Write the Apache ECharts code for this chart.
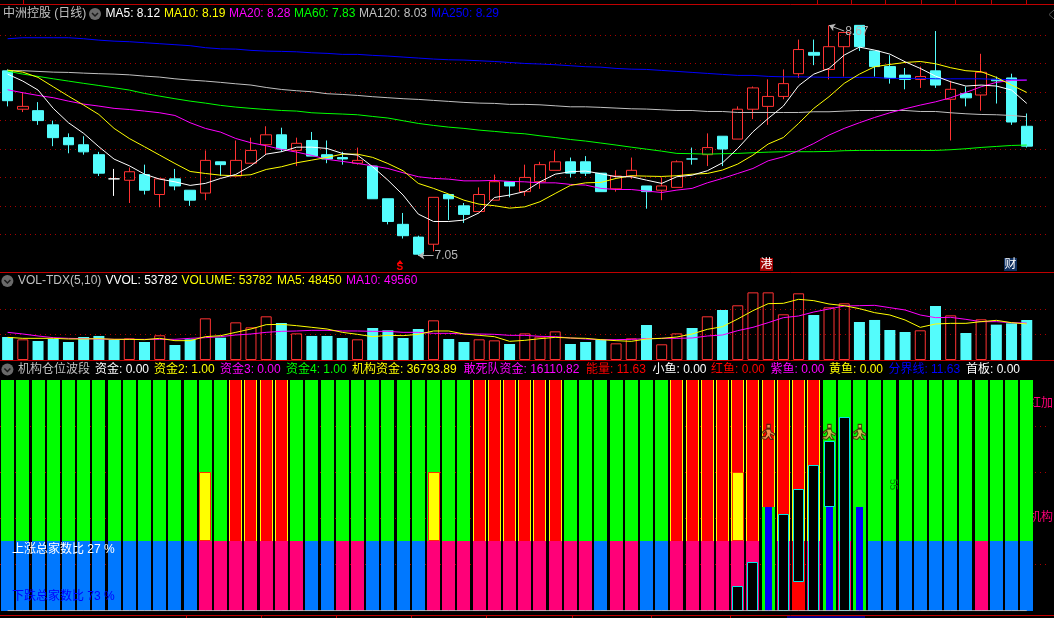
<!DOCTYPE html>
<html><head><meta charset="utf-8">
<style>html,body{margin:0;padding:0;background:#000}#c{width:1054px;height:618px}</style>
<script src="https://cdn.jsdelivr.net/npm/echarts@6/dist/echarts.min.js"></script>
</head><body><div id="c"></div>
<script>
const categories = Array.from({length:69},(_,i)=>'D'+(i+1));

// [open, close, low, high]
const candles = [
[8.35,8.14,8.10,8.36],[8.08,8.10,8.06,8.20],[8.07,8.00,7.97,8.13],[7.97,7.88,7.82,8.00],[7.88,7.83,7.77,7.91],
[7.83,7.78,7.76,7.89],[7.76,7.63,7.61,7.78],[7.59,7.59,7.47,7.66],[7.58,7.64,7.42,7.67],[7.62,7.51,7.48,7.69],
[7.48,7.59,7.39,7.59],[7.59,7.54,7.51,7.66],[7.51,7.44,7.40,7.51],[7.49,7.72,7.44,7.79],[7.71,7.69,7.61,7.71],
[7.61,7.72,7.61,7.86],[7.70,7.79,7.70,7.88],[7.83,7.90,7.76,7.96],[7.90,7.80,7.78,7.95],[7.79,7.84,7.68,7.88],
[7.86,7.75,7.75,7.92],[7.76,7.73,7.70,7.86],[7.74,7.73,7.69,7.78],[7.70,7.72,7.69,7.81],[7.68,7.45,7.45,7.68],
[7.45,7.29,7.27,7.45],[7.27,7.19,7.17,7.35],[7.18,7.06,7.05,7.19],[7.13,7.46,7.08,7.46],[7.48,7.45,7.30,7.48],
[7.40,7.34,7.28,7.42],[7.36,7.48,7.36,7.53],[7.44,7.57,7.44,7.62],[7.57,7.54,7.46,7.57],[7.50,7.60,7.47,7.69],
[7.57,7.69,7.52,7.71],[7.65,7.71,7.65,7.79],[7.71,7.63,7.60,7.74],[7.71,7.63,7.61,7.75],[7.63,7.50,7.50,7.63],
[7.52,7.61,7.50,7.65],[7.61,7.65,7.59,7.74],[7.54,7.50,7.38,7.54],[7.51,7.54,7.44,7.60],[7.53,7.71,7.53,7.72],
[7.73,7.73,7.69,7.81],[7.76,7.81,7.68,7.91],[7.89,7.80,7.68,7.89],[7.87,8.08,7.87,8.10],[8.08,8.23,8.01,8.24],
[8.10,8.17,7.97,8.29],[8.17,8.26,8.15,8.36],[8.33,8.50,8.30,8.57],[8.48,8.46,8.39,8.57],[8.36,8.52,8.29,8.67],
[8.52,8.62,8.31,8.62],[8.67,8.52,8.49,8.67],[8.49,8.38,8.31,8.49],[8.38,8.30,8.26,8.46],[8.32,8.29,8.22,8.37],
[8.29,8.31,8.23,8.38],[8.35,8.25,8.23,8.63],[8.15,8.22,7.86,8.28],[8.19,8.16,8.10,8.24],[8.18,8.34,8.07,8.47],
[8.29,8.28,8.12,8.31],[8.30,7.99,7.97,8.33],[7.96,7.82,7.81,8.05]];

const ma5 = [8.327,8.278,8.215,8.086,7.985,7.910,7.816,7.729,7.682,7.623,7.588,7.569,7.544,7.558,7.593,7.621,7.682,7.764,7.781,7.813,7.813,7.804,7.769,
7.757,7.675,7.581,7.476,7.342,7.290,7.290,7.300,7.351,7.459,7.476,7.501,7.569,7.623,7.640,7.645,7.626,7.605,7.605,7.581,7.558,7.605,7.616,
7.647,7.703,7.804,7.921,8.015,8.102,8.245,8.327,8.367,8.461,8.517,8.496,8.468,8.414,8.367,8.313,8.273,8.243,8.250,8.243,8.215,8.121];
const ma10 = [8.355,8.341,8.304,8.238,8.172,8.109,8.043,7.945,7.874,7.816,7.757,7.698,7.642,7.628,7.616,7.612,7.619,7.656,7.675,7.703,7.722,7.741,7.764,
7.764,7.741,7.698,7.647,7.558,7.523,7.483,7.440,7.412,7.401,7.384,7.393,7.429,7.487,7.544,7.562,7.565,7.593,7.612,7.609,7.607,7.612,7.623,
7.628,7.652,7.694,7.757,7.835,7.881,7.980,8.086,8.168,8.262,8.327,8.379,8.395,8.409,8.416,8.400,8.372,8.351,8.344,8.304,8.250,8.198];
const ma20 = [8.217,8.196,8.177,8.161,8.137,8.116,8.102,8.086,8.078,8.067,8.055,8.036,7.985,7.945,7.919,7.874,7.844,7.823,7.797,7.778,7.755,7.727,7.713,
7.698,7.682,7.663,7.633,7.605,7.593,7.588,7.576,7.576,7.579,7.572,7.569,7.562,7.562,7.551,7.546,7.523,7.515,7.515,7.504,7.494,7.511,7.523,
7.562,7.593,7.628,7.663,7.717,7.745,7.788,7.839,7.898,7.945,7.985,8.022,8.055,8.083,8.109,8.132,8.161,8.198,8.238,8.269,8.283,8.285];
const ma60 = [8.348,8.327,8.311,8.294,8.278,8.262,8.247,8.231,8.215,8.191,8.172,8.154,8.137,8.123,8.107,8.095,8.086,8.078,8.071,8.067,8.055,8.050,8.046,
8.041,8.029,8.018,7.999,7.980,7.966,7.954,7.945,7.933,7.924,7.914,7.907,7.893,7.881,7.867,7.856,7.842,7.828,7.813,7.799,7.785,7.769,7.767,
7.764,7.767,7.769,7.774,7.778,7.781,7.781,7.781,7.783,7.788,7.790,7.790,7.790,7.790,7.790,7.790,7.795,7.802,7.811,7.818,7.825,7.828];
const ma120 = [8.351,8.351,8.346,8.341,8.339,8.334,8.330,8.327,8.322,8.313,8.306,8.294,8.285,8.278,8.269,8.259,8.250,8.233,8.219,8.210,8.203,8.189,8.184,
8.177,8.168,8.161,8.154,8.149,8.142,8.135,8.128,8.123,8.121,8.114,8.114,8.111,8.104,8.097,8.097,8.093,8.088,8.083,8.081,8.076,8.071,8.071,
8.064,8.064,8.057,8.057,8.057,8.057,8.057,8.062,8.062,8.067,8.071,8.071,8.071,8.071,8.064,8.064,8.055,8.048,8.043,8.041,8.036,8.027];
const ma250 = [8.576,8.583,8.583,8.583,8.583,8.576,8.566,8.559,8.555,8.548,8.541,8.534,8.527,8.513,8.505,8.503,8.494,8.489,8.487,8.484,8.477,8.473,8.466,
8.466,8.459,8.454,8.447,8.440,8.433,8.428,8.426,8.421,8.416,8.409,8.402,8.398,8.393,8.386,8.379,8.376,8.367,8.362,8.360,8.353,8.346,8.339,
8.332,8.325,8.318,8.318,8.311,8.308,8.308,8.306,8.304,8.304,8.304,8.304,8.297,8.297,8.297,8.294,8.294,8.294,8.294,8.290,8.287,8.285];

const volume = [30900,27800,25500,28200,24200,30900,32300,26900,29100,24200,33200,20200,27800,56000,30000,50600,43900,58700,49700,35800,32300,32300,29600,27800,
43000,39900,29600,41700,53300,28200,24200,27800,26400,21500,35800,31400,38500,21500,24200,27300,22400,29100,47000,21100,35800,43000,58700,67200,
73500,90900,90900,61400,89600,60500,70800,76200,51100,53800,40300,37600,39900,72600,60000,36300,54700,47500,49300,53782];
const volMa5 = [30464,29120,29120,29120,28224,28224,28672,27776,27776,27328,29120,25984,25984,31360,32704,37184,41664,47488,47936,46144,43904,41664,37184,34496,
31360,33152,32704,34496,38976,38976,34944,33152,31360,25088,26432,28672,30464,29568,29120,27328,25984,25088,28224,29120,30912,34944,41216,44800,
55104,66304,75712,76160,81536,79744,75264,73024,68992,63616,60480,53760,43904,48384,49280,49280,51520,53312,50176,48450];
const volMa10 = [37184,34944,32256,30016,29120,28672,28224,27776,27776,27776,27776,27776,29120,30016,31360,33600,34944,37184,38528,38976,39872,39872,38976,38976,
38528,38528,37184,37184,35840,35840,34944,34944,34496,33152,33152,31808,31360,29568,28224,27328,27328,27776,28672,29120,29120,29568,32256,33600,
39424,43904,50176,56896,59136,64512,68544,72576,73024,73472,70336,67200,60480,56896,57344,54656,51520,51520,50176,49560];

// third panel: state of each session
const upperRed = [0,0,0,0,0,0,0,0,0,0,0,0,0,0,0,1,1,1,1,0,0,0,0,0,0,0,0,0,0,0,0,1,1,1,1,1,1,0,0,0,0,0,0,0,1,1,1,1,1,1,1,1,1,1,0,0,0,0,0,0,0,0,0,0,0,0,0,0];
const lowerKind = ['B','B','B','B','B','B','B','B','B','B','B','B','B','P','P','P','P','P','P','P','B','B','P','P','B','B','B','B','P','P','P','P','P','P','P','P','P','P','P','B','P','P','B','B','P','P','P','P','P','P','-','P','R','P','-','P','-','B','B','B','B','B','B','B','P','B','B','B'];
const upperLine = 100, splitLevel = 30;
const yellowSessions = [13,28,48];
const yellowTop = [60,60,60];
const blueSessions = [50,54,56];
const blueTop = [45,45,45];
const blackSessions = [48,49,51,52,53,54,55];
const blackBottom = [0,0,0,12.4,0,45,0];
const blackTop = [10.7,21.1,41.8,52.6,63,73.4,83.8];
const runnerSessions = [50,54,56];
const runnerLevel = [77.5,77.5,77.5];
const baseline = new Array(68).fill(0);

const priceTitle = '中洲控股 (日线)';
const row1Texts = ['MA5: 8.12','MA10: 8.19','MA20: 8.28','MA60: 7.83','MA120: 8.03','MA250: 8.29'];
const row2Texts = ['VOL-TDX(5,10)','VVOL: 53782','VOLUME: 53782','MA5: 48450','MA10: 49560'];
const row3Texts = ['机构仓位波段','资金: 0.00','资金2: 1.00','资金3: 0.00','资金4: 1.00','机构资金: 36793.89','敢死队资金: 16110.82','能量: 11.63','小鱼: 0.00','红鱼: 0.00','紫鱼: 0.00','黄鱼: 0.00','分界线: 11.63','首板: 0.00'];

const C = {white:'#ffffff',yellow:'#ffff00',mag:'#ff00ff',green:'#00ff00',gray:'#c0c0c0',blue:'#0000ff',red:'#ff0000',cy:'#54fcfc',cr:'#ff3232',
  bar:'#0078ff',pink:'#ff0078',dot:'#a80000',line:'#c00000'};
const FONT = '12px "Liberation Sans","Noto Sans CJK SC",sans-serif';
const row1X=[105.5,164,229,294,359,431], row1C=[C.white,C.yellow,C.mag,C.green,C.gray,C.blue];
const row2X=[18,105.5,181.5,277,346], row2C=[C.gray,C.white,C.yellow,C.yellow,C.mag];
const row3X=[18,95,154,220,286,352,463.5,586,652.5,711,770.5,829,888.4,966];
const row3C=[C.gray,C.white,C.yellow,C.mag,C.green,C.yellow,C.mag,C.red,C.white,C.red,C.mag,C.yellow,C.blue,C.white];

const chart = echarts.init(document.getElementById('c'),null,{renderer:'canvas'});
const band = 15.23, gridLeft = -1.3, gridW = band*69;
function xAx(i){return {type:'category',gridIndex:i,data:categories,show:false,boundaryGap:true};}
function yAx(i,min,max,interval){return {type:'value',gridIndex:i,min,max,interval,scale:false,
  axisLine:{show:false},axisTick:{show:false},axisLabel:{show:false},
  splitLine:{show:true,showMinLine:false,showMaxLine:false,lineStyle:{color:C.dot,type:[1,4],width:1}}};}
function maLine(name,data,color){return {name,type:'line',data,xAxisIndex:0,yAxisIndex:0,symbol:'none',showSymbol:false,smooth:false,
  lineStyle:{color,width:1},z:5,silent:true};}
function volLine(name,data,color){return {name,type:'line',data,xAxisIndex:1,yAxisIndex:1,symbol:'none',showSymbol:false,
  lineStyle:{color,width:1},z:5,silent:true};}
function layer(rows,fill,w,stroke,z){return {type:'custom',xAxisIndex:2,yAxisIndex:2,data:rows,z,silent:true,clip:false,
  encode:{x:0,y:[1,2]},
  renderItem(p,api){
    const t=api.coord([api.value(0),api.value(2)]), b=api.coord([api.value(0),api.value(1)]);
    const x=Math.round(t[0]-w/2), y=Math.round(t[1]);
    return {type:'rect',shape:{x:stroke?x+.5:x,y:stroke?y+.5:y,width:stroke?w-1:w,height:Math.round(b[1])-y-(stroke?1:0)},
      style:{fill,stroke:stroke||null,lineWidth:stroke?1:0}};
  }};}
const rowsWhere=(pred,from,to)=>{const r=[];for(let i=0;i<68;i++)if(pred(i))r.push([i,from,to]);return r;};

const series = [
 {type:'candlestick',xAxisIndex:0,yAxisIndex:0,barWidth:11,z:3,silent:true,
  data:candles.map((d,i)=> i===7?{value:d,itemStyle:{borderColor:'#fff',borderColor0:'#fff',borderColorDoji:'#fff',color:'#fff',color0:'#fff'}}:d),
  itemStyle:{color:'transparent',color0:C.cy,borderColor:C.cr,borderColor0:C.cy,borderColorDoji:C.cy,borderWidth:1},
  markLine:{silent:true,animation:false,symbol:['arrow','none'],symbolSize:6,precision:2,
    lineStyle:{color:'#b8b8b8',width:1,type:'solid'},
    label:{show:true,position:'end',color:'#b8b8b8',font:FONT,distance:1},
    data:[
      [{coord:[categories[27],7.05],value:7.05},{coord:[categories[28],7.05]}],
      [{coord:[categories[54],8.67],value:8.67},{coord:[categories[55],8.63]}]
    ]}},
 maLine('MA250',ma250,C.blue),maLine('MA120',ma120,C.gray),maLine('MA60',ma60,C.green),maLine('MA20',ma20,C.mag),maLine('MA10',ma10,C.yellow),maLine('MA5',ma5,C.white),
 {type:'bar',xAxisIndex:1,yAxisIndex:1,barWidth:11,z:3,silent:true,
  data:volume.map((v,i)=>{const up=candles[i][1]>candles[i][0];
    return {value:v,itemStyle:up?{color:'transparent',borderColor:C.cr,borderWidth:1}:{color:C.cy}};})},
 volLine('VMA10',volMa10,C.mag),volLine('VMA5',volMa5,C.yellow),
 layer(rowsWhere(i=>!upperRed[i],0,upperLine),C.green,13,null,3),
 layer(rowsWhere(i=>upperRed[i],splitLevel,upperLine),C.yellow,13,null,4),
 layer(rowsWhere(i=>upperRed[i],splitLevel,upperLine),C.red,11,null,5),
 layer(blueSessions.filter(i=>upperRed[i]).map((i,k)=>[i,0,blueTop[k]]),C.green,13,null,6),
 layer(yellowSessions.map((i,k)=>[i,splitLevel,yellowTop[k]]),C.yellow,12,'#ff3000',7),
 layer(rowsWhere(i=>lowerKind[i]==='B',0,splitLevel),C.bar,13,null,8),
 layer(rowsWhere(i=>lowerKind[i]==='P',0,splitLevel),C.pink,13,null,8),
 layer(rowsWhere(i=>lowerKind[i]==='R',0,splitLevel),C.red,13,null,8),
 layer(blueSessions.map((i,k)=>[i,0,blueTop[k]]),C.blue,7,null,9),
 layer(blackSessions.map((i,k)=>[i,blackBottom[k],blackTop[k]]),'#000000',11,'#00e8e8',10),
 {type:'line',xAxisIndex:2,yAxisIndex:2,data:baseline,symbol:'none',lineStyle:{color:C.gray,width:1},z:11,silent:true},
 {type:'scatter',xAxisIndex:2,yAxisIndex:2,z:12,silent:true,symbolSize:[13,15],
  symbol:'path://M6 0h4v4h-4zM6 5L10 5L11 8L15 10L14 12L10 10L10 12L13 16L10 16L8 13L5 16L0 15L1 13L4 13L6 10L5 7L2 10L1 8Z',
  itemStyle:{color:'#f8b060',borderColor:'#3a1a00',borderWidth:1},
  data:runnerSessions.map((i,k)=>[i,runnerLevel[k]])}
];

function txt(text,x,y,fill,extra){return Object.assign({type:'text',x,y,silent:true,z:100,style:{text,fill,font:FONT,verticalAlign:'middle',align:'left'}},extra||{});}
function hline(y){return {type:'line',silent:true,z:50,shape:{x1:0,y1:y,x2:1054,y2:y},style:{stroke:C.line,lineWidth:1}};}
function vtick(x,y1,y2){return {type:'line',silent:true,z:50,shape:{x1:x,y1,x2:x,y2},style:{stroke:C.line,lineWidth:1}};}
function icon(cx,cy){return {type:'group',silent:true,z:60,children:[
  {type:'circle',z:60,shape:{cx,cy,r:6},style:{fill:'#6a6a6a'}},
  {type:'polyline',z:61,shape:{points:[[cx-3,cy-1],[cx,cy+2],[cx+3,cy-1]]},style:{stroke:'#1a1a1a',lineWidth:1.5,fill:null}}]};}
const g=[hline(4.5),hline(272.5),hline(360.5),hline(615.5)];
[23,817,851,885,921,955,991,1026].forEach(x=>g.push(vtick(x+.5,0,4)));
[186,261,336,411,486,572,651,730].forEach(x=>g.push(vtick(x+.5,616,618)));
g.push({type:'rect',silent:true,z:51,shape:{x:787,y:616,width:78,height:2},style:{fill:'#000080'}});
g.push(txt(priceTitle,3,14,C.gray),icon(95,14),icon(7.4,281),icon(7.4,369.5));
row1Texts.forEach((t,i)=>g.push(txt(t,row1X[i],14,row1C[i])));
row2Texts.forEach((t,i)=>g.push(txt(t,row2X[i],281,row2C[i])));
row3Texts.forEach((t,i)=>g.push(txt(t,row3X[i],369.5,row3C[i])));
g.push(txt('上涨总家数比 27 %',12,550,C.white),txt('下跌总家数比 73 %',12,597,C.blue));
g.push(txt('红加',1029,404,C.pink,{clipPath:{type:'rect',shape:{x:4,y:-10,width:30,height:20}}}));
g.push(txt('机构',1029,518,C.pink,{clipPath:{type:'rect',shape:{x:4,y:-10,width:30,height:20}}}));
g.push(txt('55',893,479,'#008a00',{rotation:-Math.PI/2,style:{text:'55',fill:'#008a00',font:'10px "Liberation Sans"',verticalAlign:'middle',align:'left'}}));
g.push({type:'polyline',silent:true,z:60,shape:{points:[[1054,10],[1049,14.5],[1054,19]]},style:{stroke:'#555',lineWidth:1,fill:null}});
g.push({type:'polygon',silent:true,z:60,shape:{points:[[400,260],[403,264],[397,264]]},style:{fill:C.red}});
g.push(txt('S',396.5,267.5,C.red,{style:{text:'S',fill:C.red,font:'bold 10px "Liberation Sans"',verticalAlign:'middle',align:'left'}}));
g.push({type:'rect',silent:true,z:60,shape:{x:760,y:258,width:13,height:13},style:{fill:'#a00000'}});
g.push(txt('港',760.5,264.5,'#fff'));
g.push({type:'rect',silent:true,z:60,shape:{x:1004,y:258,width:13,height:13},style:{fill:'#103060'}});
g.push(txt('财',1004.5,264.5,'#fff'));

chart.setOption({
  animation:false,backgroundColor:'#000',
  grid:[
    {left:gridLeft,width:gridW,top:6.9,height:255.8},
    {left:gridLeft,width:gridW,top:284.1,height:75.9},
    {left:gridLeft,width:gridW,top:380,height:230.7}
  ],
  xAxis:[xAx(0),xAx(1),xAx(2)],
  yAxis:[yAx(0,7,8.8,0.2),yAx(1,0,102000,34000),yAx(2,0,100,20)],
  series,
  graphic:{elements:g}
});
</script></body></html>
